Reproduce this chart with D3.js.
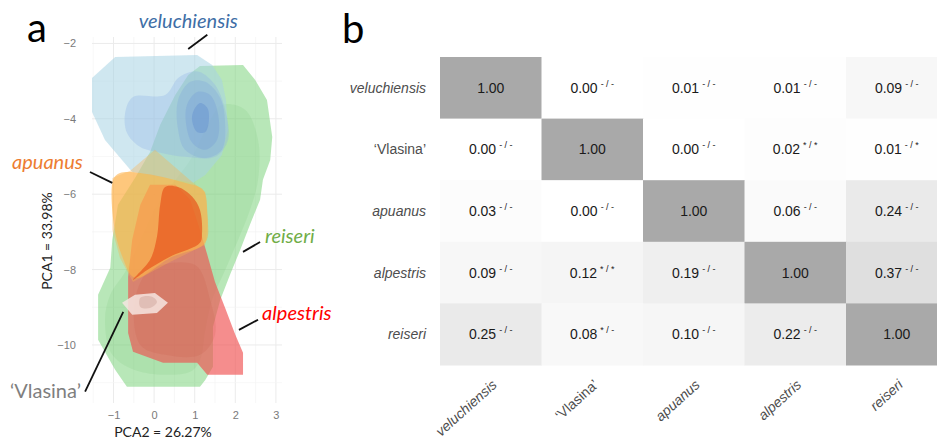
<!doctype html>
<html lang="en">
<head>
    <meta charset="UTF-8">
    <script src="https://d3js.org/d3.v7.min.js"></script>
    <title>PCA densities and overlap matrix</title>
    <style>
        body { margin: 0; background: #fff; }
        .tick text { font: 11px "Liberation Sans", Arial, sans-serif; fill: #7a7a7a; }
        .lab { font-family: Lato, "Open Sans", sans-serif; }
        .hm { font-family: "Liberation Sans", Arial, sans-serif; }
    </style>
</head>
<body>
<svg id="fig" width="937" height="440"></svg>
<script>
    // ---- panel a: density contours, [PCA2, PCA1] per level (outer -> inner) ----
    var reiseriLevels = [
        [[1.13,-2.60],[2.19,-2.57],[2.49,-2.97],[2.78,-3.50],[2.91,-4.48],[2.86,-5.09],[2.68,-5.62],[2.61,-6.15],
         [2.36,-6.81],[2.12,-7.48],[1.87,-8.14],[1.63,-8.80],[1.45,-9.52],[1.45,-10.58],[1.26,-10.93],[1.13,-11.11],
         [-0.67,-11.11],[-0.96,-10.66],[-1.38,-9.86],[-1.38,-8.67],[-1.08,-7.95],[-1.03,-7.21],[-0.89,-6.28],
         [-0.47,-5.57],[-0.10,-4.88],[0.15,-4.16],[0.52,-3.37],[0.84,-2.84]],
        [[1.67,-3.63],[2.24,-3.76],[2.56,-4.56],[2.56,-5.62],[2.36,-6.42],[2.07,-7.21],[1.75,-8.01],[1.43,-8.80],
         [1.26,-9.60],[1.13,-10.40],[0.89,-10.71],[-0.34,-10.71],[-1.03,-10.26],[-1.21,-9.33],[-1.08,-8.67],
         [-0.71,-8.06],[-0.34,-7.21],[0.15,-6.15],[0.89,-5.09],[1.38,-4.03]]
    ];
    var veluchiensisLevels = [
        [[-1.53,-2.92],[-0.96,-2.36],[1.06,-2.31],[1.43,-2.57],[1.67,-2.97],[1.77,-3.50],[1.82,-4.29],[1.67,-4.96],
         [1.26,-5.49],[0.96,-5.70],[-0.54,-5.41],[-1.21,-4.56],[-1.53,-3.82]],
        [[-0.71,-3.82],[-0.52,-3.42],[0.27,-3.37],[0.59,-2.92],[0.89,-2.76],[1.13,-2.76],[1.50,-3.10],[1.75,-3.76],
         [1.82,-4.56],[1.50,-5.01],[0.76,-5.01],[0.15,-4.90],[-0.34,-4.75],[-0.67,-4.37]],
        [[0.59,-3.50],[0.89,-3.02],[1.26,-3.02],[1.63,-3.45],[1.75,-4.16],[1.67,-4.82],[1.26,-5.04],[0.76,-4.82],[0.59,-4.29]],
        [[0.81,-3.63],[1.06,-3.29],[1.38,-3.37],[1.58,-3.90],[1.55,-4.56],[1.26,-4.82],[0.94,-4.64],[0.79,-4.16]],
        [[0.96,-3.82],[1.13,-3.58],[1.31,-3.71],[1.35,-4.03],[1.26,-4.35],[1.06,-4.35],[0.94,-4.08]]
    ];
    var alpestrisLevels = [
        [[-0.10,-5.75],[0.52,-5.75],[0.89,-6.15],[1.13,-6.95],[1.31,-7.61],[1.50,-8.33],[1.75,-9.02],[2.00,-9.73],
         [2.19,-10.21],[2.19,-10.79],[1.31,-10.79],[1.06,-10.47],[0.22,-10.47],[-0.52,-10.18],[-0.64,-9.68],
         [-0.64,-8.19],[-0.54,-7.21],[-0.34,-6.28]],
        [[-0.10,-8.01],[1.01,-7.88],[1.38,-8.80],[1.50,-9.73],[1.13,-10.26],[0.27,-10.26],[-0.34,-10.00],[-0.47,-8.80]]
    ];
    var apuanusLevels = [
        [[-1.03,-5.57],[-0.59,-5.38],[0.02,-4.82],[0.96,-5.70],[1.26,-5.94],[1.33,-6.68],[1.26,-7.34],[0.39,-7.80],
         [-0.52,-8.33],[-0.84,-7.69],[-1.03,-6.95]],
        [[-1.01,-5.62],[-0.84,-5.44],[-0.34,-5.44],[0.76,-5.70],[1.21,-5.89],[1.31,-6.55],[1.26,-7.29],[0.39,-7.69],
         [-0.47,-8.22],[-0.79,-7.64],[-0.99,-6.81]],
        [[0.27,-5.81],[0.59,-5.81],[0.94,-6.07],[1.13,-6.42],[1.18,-7.03],[1.13,-7.29],[0.39,-7.66],[-0.17,-8.01],
         [-0.52,-8.27],[-0.10,-7.74],[0.07,-7.13],[0.15,-6.28]]
    ];
    var vlasinaLevels = [
        [[-0.79,-8.88],[-0.47,-8.67],[0.02,-8.62],[0.34,-8.88],[0.07,-9.15],[-0.54,-9.20]],
        [[-0.34,-8.75],[-0.05,-8.72],[0.07,-8.86],[-0.10,-9.02],[-0.34,-8.99]]
    ];

    var xTicks = [-1, 0, 1, 2, 3];
    var yTicks = [-2, -4, -6, -8, -10];

    // species labels: text anchor + leader line, in data units
    var speciesLabels = [
        {name: "veluchiensis", color: "#3e6ea6", italic: true, anchor: "middle", at: [0.84, -1.59], line: [[1.31, -1.77], [0.84, -2.15]]},
        {name: "apuanus", color: "#ed7d31", italic: true, anchor: "start", at: [-3.50, -5.33], line: [[-1.58, -5.41], [-1.03, -5.70]]},
        {name: "reiseri", color: "#70ad47", italic: true, anchor: "start", at: [2.73, -7.29], line: [[2.61, -7.27], [2.19, -7.53]]},
        {name: "alpestris", color: "#ff0000", italic: true, anchor: "start", at: [2.66, -9.33], line: [[2.56, -9.33], [2.09, -9.60]]},
        {name: "\u2018Vlasina\u2019", color: "#7f7f7f", italic: false, anchor: "start", at: [-3.55, -11.40], line: [[-1.70, -11.24], [-0.76, -9.12]]}
    ];

    // ---- panel b: overlap matrix ----
    var taxa = ["veluchiensis", "\u2018Vlasina\u2019", "apuanus", "alpestris", "reiseri"];
    var overlap = [
        [1.00, 0.00, 0.01, 0.01, 0.09],
        [0.00, 1.00, 0.00, 0.02, 0.01],
        [0.03, 0.00, 1.00, 0.06, 0.24],
        [0.09, 0.12, 0.19, 1.00, 0.37],
        [0.25, 0.08, 0.10, 0.22, 1.00]
    ];
    var signif = [
        ["", "- / -", "- / -", "- / -", "- / -"],
        ["- / -", "", "- / -", "* / *", "- / *"],
        ["- / -", "- / -", "", "- / -", "- / -"],
        ["- / -", "* / *", "- / -", "", "- / -"],
        ["- / -", "* / -", "- / -", "- / -", ""]
    ];

    var svg = d3.select("#fig");

    // panel a
    var x = d3.scaleLinear().domain([-1.53, 3.15]).range([92, 282]);
    var y = d3.scaleLinear().domain([-1.83, -11.54]).range([37, 403]);

    var grid = svg.append("g");
    d3.range(-1.5, 3.01, 0.5).forEach(function (v) {
        grid.append("line").attr("x1", x(v)).attr("x2", x(v)).attr("y1", y(-1.83)).attr("y2", y(-11.54))
            .attr("stroke", Number.isInteger(v) ? "#ebebeb" : "#f3f3f3").attr("stroke-width", Number.isInteger(v) ? 1 : 0.7);
    });
    d3.range(-2, -11.01, -1).forEach(function (v) {
        grid.append("line").attr("y1", y(v)).attr("y2", y(v)).attr("x1", x(-1.53)).attr("x2", x(3.15))
            .attr("stroke", v % 2 === 0 ? "#ebebeb" : "#f3f3f3").attr("stroke-width", v % 2 === 0 ? 1 : 0.7);
    });

    var line = d3.line().x(function (d) { return x(d[0]); }).y(function (d) { return y(d[1]); });
    var outer = d3.line().x(function (d) { return x(d[0]); }).y(function (d) { return y(d[1]); })
        .curve(d3.curveLinearClosed);
    var smooth = d3.line().x(function (d) { return x(d[0]); }).y(function (d) { return y(d[1]); })
        .curve(d3.curveCatmullRomClosed.alpha(0.5));

    function drawLevels(levels, fills, opac) {
        var g = svg.append("g");
        levels.forEach(function (pts, i) {
            g.append("path")
                .attr("d", i === 0 ? outer(pts) : smooth(pts))
                .attr("fill", fills[i])
                .attr("fill-opacity", opac[i]);
        });
    }

    drawLevels(reiseriLevels, ["#7ed47e", "#4fae4f"], [0.55, 0.1]);
    drawLevels(veluchiensisLevels, ["#a8d4e4", "#8fb2e6", "#7aa3dc", "#6e98d6", "#5a88cf"], [0.55, 0.32, 0.28, 0.28, 0.35]);
    drawLevels(alpestrisLevels, ["#f05050", "#b83a2a"], [0.65, 0.1]);
    drawLevels(apuanusLevels, ["#fdb24a", "#fdb24a", "#e8571e"], [0.35, 0.58, 0.72]);
    drawLevels(vlasinaLevels, ["#f6e6e2", "#c99a90"], [0.85, 0.4]);

    var xAxis = d3.axisBottom(x).tickValues(xTicks).tickSize(0).tickPadding(0).tickFormat(d3.format("d"));
    var yAxis = d3.axisLeft(y).tickValues(yTicks).tickSize(0).tickPadding(0).tickFormat(d3.format("d"));
    svg.append("g").attr("transform", "translate(0,411)").call(xAxis)
        .call(function (g) { g.select(".domain").remove(); g.selectAll("text").attr("dy", "0.7em"); });
    svg.append("g").attr("transform", "translate(76,0)").call(yAxis)
        .call(function (g) { g.select(".domain").remove(); });

    svg.append("text").attr("class", "lab").attr("x", 163).attr("y", 437).attr("text-anchor", "middle")
        .attr("font-size", 14).attr("fill", "#222").text("PCA2 = 26.27%");
    svg.append("text").attr("class", "lab").attr("transform", "translate(52,241) rotate(-90)")
        .attr("text-anchor", "middle").attr("font-size", 14).attr("fill", "#222").text("PCA1 = 33.98%");

    speciesLabels.forEach(function (s) {
        svg.append("path").attr("d", line(s.line))
            .attr("stroke", "#111").attr("stroke-width", 1.8).attr("fill", "none");
        svg.append("text").attr("class", "lab")
            .attr("x", x(s.at[0])).attr("y", y(s.at[1]))
            .attr("text-anchor", s.anchor)
            .attr("font-size", 20)
            .attr("font-style", s.italic ? "italic" : "normal")
            .attr("fill", s.color)
            .text(s.name);
    });

    svg.append("text").attr("class", "lab").attr("x", 27).attr("y", 42).attr("font-size", 40).attr("fill", "#000").text("a");
    svg.append("text").attr("class", "lab").attr("x", 342).attr("y", 43).attr("font-size", 40).attr("fill", "#000").text("b");

    // panel b
    var cx = d3.scaleBand().domain(taxa).range([440, 947.5]);
    var cy = d3.scaleBand().domain(taxa).range([57, 365]);
    var shade = d3.scaleLinear().domain([0, 1]).range(["#ffffff", "#a9a9a9"]);

    var cells = [];
    overlap.forEach(function (row, i) {
        row.forEach(function (v, j) {
            cells.push({r: taxa[i], c: taxa[j], v: v, s: signif[i][j]});
        });
    });

    var hm = svg.append("g").attr("class", "hm");
    hm.selectAll("rect").data(cells).enter().append("rect")
        .attr("x", function (d) { return cx(d.c); })
        .attr("y", function (d) { return cy(d.r); })
        .attr("width", cx.bandwidth() + 0.5)
        .attr("height", cy.bandwidth() + 0.5)
        .attr("fill", function (d) { return shade(d.v); });

    var lbl = hm.selectAll("text.val").data(cells).enter().append("text")
        .attr("class", "val")
        .attr("x", function (d) { return cx(d.c) + cx.bandwidth() / 2; })
        .attr("y", function (d) { return cy(d.r) + cy.bandwidth() / 2 + 5; })
        .attr("text-anchor", "middle")
        .attr("font-size", 14)
        .attr("fill", "#1a1a1a");
    lbl.append("tspan").text(function (d) { return d.v.toFixed(2); });
    lbl.filter(function (d) { return d.s !== ""; }).append("tspan")
        .attr("font-size", 9).attr("dy", -6).attr("dx", 3)
        .text(function (d) { return d.s; });

    hm.selectAll("text.row").data(taxa).enter().append("text")
        .attr("class", "row")
        .attr("x", 426)
        .attr("y", function (d) { return cy(d) + cy.bandwidth() / 2 + 5; })
        .attr("text-anchor", "end")
        .attr("font-size", 14)
        .attr("font-style", function (d) { return d.charAt(0) === "\u2018" ? "normal" : "italic"; })
        .attr("fill", "#4d4d4d")
        .text(function (d) { return d; });

    hm.selectAll("text.col").data(taxa).enter().append("text")
        .attr("class", "col")
        .attr("transform", function (d) { return "translate(" + (cx(d) + cx.bandwidth() / 2 + 7) + ",386) rotate(-42)"; })
        .attr("text-anchor", "end")
        .attr("font-size", 14)
        .attr("font-style", function (d) { return d.charAt(0) === "\u2018" ? "normal" : "italic"; })
        .attr("fill", "#4d4d4d")
        .text(function (d) { return d; });
</script>
</body>
</html>
